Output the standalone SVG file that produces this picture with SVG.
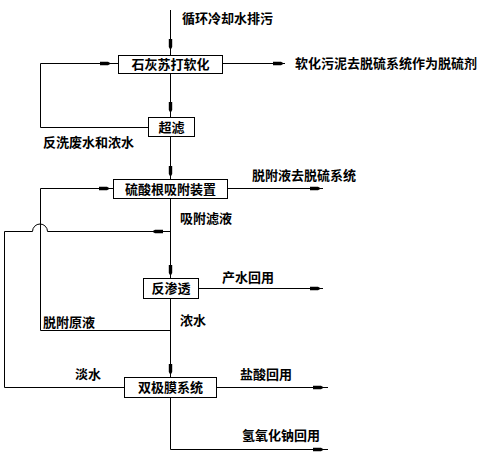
<svg xmlns="http://www.w3.org/2000/svg" xmlns:xlink="http://www.w3.org/1999/xlink" width="486" height="456" viewBox="0 0 486 456">
<style>
.box{fill:#fff;stroke:#000;stroke-width:1}
.ln{fill:none;stroke:#000;stroke-width:1}
text{font-family:"Noto Sans CJK SC","Noto Sans CJK JP",sans-serif;font-size:13px;fill:#000;font-weight:bold}
.c{text-anchor:middle}
</style>
<defs>
<path id="ah" d="M-11,-1.7 L-3,-1.7 L0,0 L-3,1.7 L-11,1.7 Z" fill="#000"/>
</defs>
<rect width="486" height="456" fill="#fff"/>
<g id="connectors">
<path class="ln" d="M170.5,10 V55"/>
<path class="ln" d="M170.5,73 V117"/>
<path class="ln" d="M223,63.5 H285"/>
<path class="ln" d="M148,127.5 H40.5 V63.5 H118"/>
<path class="ln" d="M170.5,136 V179"/>
<path class="ln" d="M228,188.5 H323"/>
<path class="ln" d="M170.5,198 V278"/>
<path class="ln" d="M170.5,231.5 H47.5 A7.5,7.5 0 0 0 32.5,231.5 H4.5 V387.5 H124"/>
<path class="ln" d="M199,288.5 H323"/>
<path class="ln" d="M170.5,298 V377"/>
<path class="ln" d="M170.5,330.5 H40.5 V188.5 H113"/>
<path class="ln" d="M217,387.5 H328"/>
<path class="ln" d="M170.5,397 V449.5 H328"/>
<use xlink:href="#ah" transform="translate(170.5,50) rotate(90)"/>
<use xlink:href="#ah" transform="translate(170.5,113) rotate(90)"/>
<use xlink:href="#ah" transform="translate(170.5,177) rotate(90)"/>
<use xlink:href="#ah" transform="translate(170.5,276) rotate(90)"/>
<use xlink:href="#ah" transform="translate(170.5,375) rotate(90)"/>
<use xlink:href="#ah" transform="translate(284,63.5)"/>
<use xlink:href="#ah" transform="translate(111,63.5)"/>
<use xlink:href="#ah" transform="translate(110,188.5)"/>
<use xlink:href="#ah" transform="translate(321,188.5)"/>
<use xlink:href="#ah" transform="translate(152,231.5) rotate(180)"/>
<use xlink:href="#ah" transform="translate(321,288.5)"/>
<use xlink:href="#ah" transform="translate(324,387.5)"/>
<use xlink:href="#ah" transform="translate(324,449.5)"/>
</g>
<g id="n1"><rect class="box" x="118.5" y="55.5" width="104" height="18"/><text class="c" x="170.5" y="69">石灰苏打软化</text></g>
<g id="n2"><rect class="box" x="148.5" y="117.5" width="46" height="19"/><text class="c" x="171.5" y="131.5">超滤</text></g>
<g id="n3"><rect class="box" x="113.5" y="179.5" width="114" height="19"/><text class="c" x="170.5" y="193.5">硫酸根吸附装置</text></g>
<g id="n4"><rect class="box" x="143.5" y="278.5" width="55" height="20"/><text class="c" x="171" y="293">反渗透</text></g>
<g id="n5"><rect class="box" x="124.5" y="377.5" width="92" height="20"/><text class="c" x="170.5" y="392">双极膜系统</text></g>
<g id="labels">
<text x="182" y="23">循环冷却水排污</text>
<text x="295" y="68">软化污泥去脱硫系统作为脱硫剂</text>
<text x="43" y="147">反洗废水和浓水</text>
<text x="252" y="180">脱附液去脱硫系统</text>
<text x="180" y="223">吸附滤液</text>
<text x="222" y="282">产水回用</text>
<text x="43" y="327">脱附原液</text>
<text x="180" y="325">浓水</text>
<text x="75" y="379">淡水</text>
<text x="240" y="379">盐酸回用</text>
<text x="242" y="440">氢氧化钠回用</text>
</g>
</svg>
